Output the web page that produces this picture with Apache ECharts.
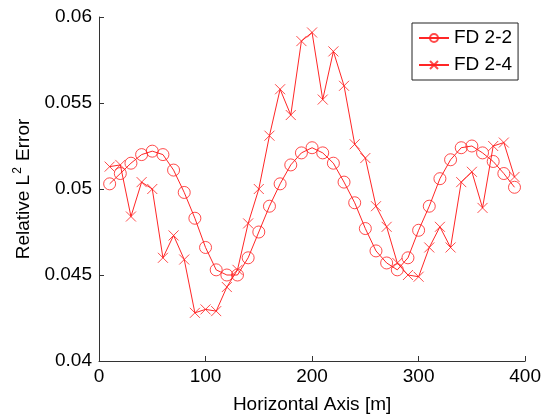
<!DOCTYPE html>
<html><head><meta charset="utf-8">
<script src="https://cdn.jsdelivr.net/npm/echarts@6/dist/echarts.min.js"></script>
<style>html,body{margin:0;padding:0;background:#fff}#c{width:544px;height:420px}</style>
</head><body><div id="c"></div>
<script>
const xValues = [10,20,30,40,50,60,70,80,90,100,110,120,130,140,150,160,170,180,190,200,210,220,230,240,250,260,270,280,290,300,310,320,330,340,350,360,370,380,390];
const fd22 = [0.0503,0.0509,0.0515,0.0520,0.0522,0.0520,0.0511,0.0498,0.0483,0.0466,0.0453,0.0450,0.0450,0.0460,0.0475,0.0490,0.0503,0.0514,0.0521,0.0524,0.0521,0.0515,0.0504,0.0492,0.0477,0.0464,0.0457,0.0453,0.0460,0.0476,0.0490,0.0506,0.0517,0.0524,0.0525,0.0521,0.0516,0.0509,0.0501];
const fd24 = [0.0513,0.0514,0.0484,0.0504,0.0500,0.0460,0.0473,0.0459,0.0428,0.0430,0.0429,0.0443,0.0453,0.0480,0.0500,0.0531,0.0558,0.0543,0.0586,0.0591,0.0552,0.0580,0.0560,0.0526,0.0518,0.0490,0.0478,0.0457,0.0450,0.0449,0.0466,0.0478,0.0466,0.0504,0.0510,0.0489,0.0525,0.0527,0.0507];
const seriesNames = ['FD 2-2','FD 2-4'];
const xTicks = [0,100,200,300,400];
const yTicks = [0.04,0.045,0.05,0.055,0.06];

const font = 'Liberation Sans, Arial, Helvetica, sans-serif';
const lineRed = 'rgba(255,0,0,0.85)';
const markRed = 'rgba(255,30,30,0.8)';
const crossPath = 'path://M0,0L10,10M10,0L0,10';

const chart = echarts.init(document.getElementById('c'), null, {renderer:'canvas'});
chart.setOption({
  animation:false,
  backgroundColor:'#fff',
  grid:{left:99,right:18,top:17,bottom:59},
  legend:{
    orient:'vertical', left:412, top:23,
    padding:[5,6,5,6], itemGap:7, itemWidth:30, itemHeight:10,
    borderColor:'#222', borderWidth:1, backgroundColor:'#fff', borderRadius:0,
    textStyle:{fontFamily:font,fontSize:19,color:'#000',lineHeight:20},
    data:seriesNames
  },
  xAxis:{
    type:'value', min:xTicks[0], max:xTicks[xTicks.length-1], interval:100,
    name:'Horizontal Axis [m]', nameLocation:'middle', nameGap:34,
    nameTextStyle:{fontFamily:font,fontSize:19,color:'#000'},
    axisLine:{lineStyle:{color:'#333',width:1}},
    axisTick:{inside:true,length:5,lineStyle:{color:'#333'}},
    axisLabel:{fontFamily:font,fontSize:19,color:'#000',margin:6},
    splitLine:{show:false}
  },
  yAxis:{
    type:'value', min:yTicks[0], max:yTicks[yTicks.length-1], interval:0.005,
    name:'{n|Relative L}{s|2}{n| Error}', nameLocation:'middle', nameGap:51,
    nameTextStyle:{fontFamily:font,fontSize:19,color:'#000',
      rich:{n:{fontFamily:font,fontSize:19,color:'#000'},s:{fontFamily:font,fontSize:12,color:'#000',verticalAlign:'top',padding:[0,1,12,1]}}},
    axisLine:{show:true,lineStyle:{color:'#333',width:1}},
    axisTick:{show:true,inside:true,length:5,lineStyle:{color:'#333'}},
    axisLabel:{fontFamily:font,fontSize:19,color:'#000',margin:7,
      formatter:v=>String(+v.toFixed(3))},
    splitLine:{show:false}
  },
  series:[
    {name:seriesNames[0], type:'line', data:xValues.map((x,i)=>[x,fd22[i]]),
     symbol:'circle', symbolSize:12, showAllSymbol:true,
     lineStyle:{color:lineRed,width:1}, itemStyle:{color:'rgba(255,255,255,0)',borderColor:markRed,borderWidth:1}},
    {name:seriesNames[1], type:'line', data:xValues.map((x,i)=>[x,fd24[i]]),
     symbol:crossPath, symbolSize:10, showAllSymbol:true,
     lineStyle:{color:lineRed,width:1}, itemStyle:{color:'rgba(255,255,255,0)',borderColor:markRed,borderWidth:1}}
  ]
});
</script></body></html>
